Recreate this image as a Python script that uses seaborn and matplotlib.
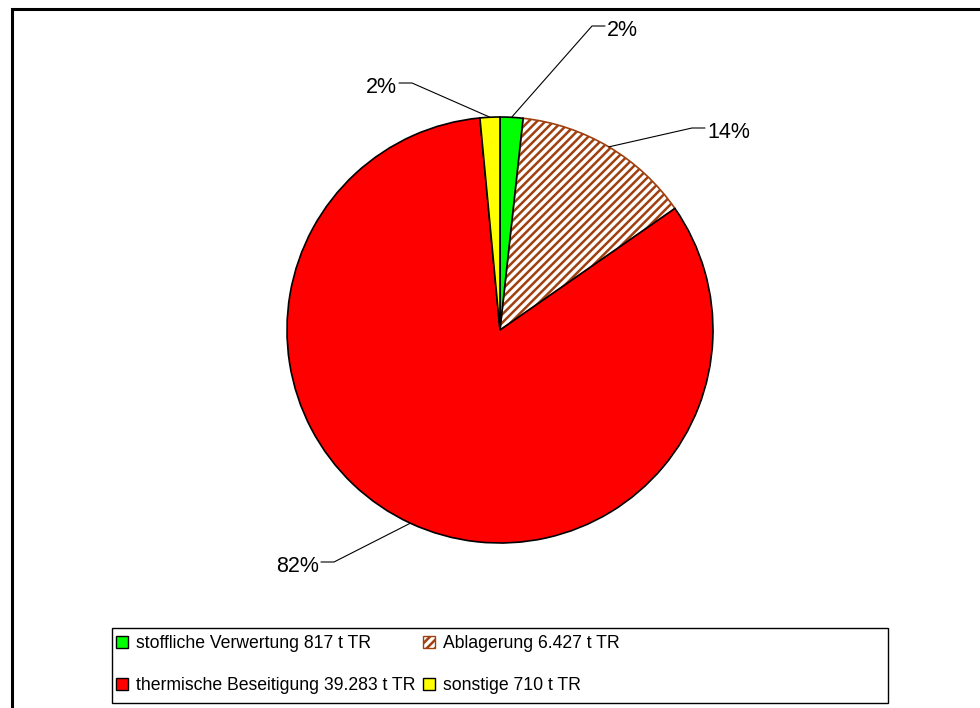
import matplotlib
matplotlib.use("Agg")
import matplotlib.pyplot as plt
import seaborn as sns
import numpy as np
from matplotlib.patches import Patch, Rectangle

# Disposal routes for sewage sludge (tonnes dry matter)
categories = ["stoffliche Verwertung", "Ablagerung", "thermische Beseitigung", "sonstige"]
tonnes = [817, 6427, 39283, 710]
tonnes_text = ["817", "6.427", "39.283", "710"]
pct_labels = ["2%", "14%", "82%", "2%"]

sns.set_theme(style="white")
plt.rcParams["font.family"] = ["Liberation Sans", "DejaVu Sans"]
plt.rcParams["text.color"] = "black"
plt.rcParams["hatch.linewidth"] = 1.8

slice_colors = sns.color_palette(["#00FF00", "#FFFFFF", "#FF0000", "#FFFF00"])
hatch_color = "#A0400F"

W, H = 980, 708
fig = plt.figure(figsize=(W / 100, H / 100), dpi=100)


def px_box(x0, y0, x1, y1):
    return [x0 / W, 1 - y1 / H, (x1 - x0) / W, (y1 - y0) / H]


# pie occupies a square of 426 px centred at (500, 330)
cx, cy, r = 500, 330, 213
ax = fig.add_axes(px_box(cx - r, cy - r, cx + r, cy + r))
wedges, _ = ax.pie(tonnes, colors=slice_colors, startangle=90, counterclock=False,
                   wedgeprops=dict(edgecolor="black", linewidth=1.2))
wedges[1].set_hatch("////")
wedges[1].set_edgecolor(hatch_color)
wedges[1].set_zorder(0.5)
ax.set_xlim(-1, 1)
ax.set_ylim(-1, 1)
ax.set_aspect("auto")
ax.axis("off")


def to_data(px, py):
    return (px - cx) / r, (cy - py) / r


# leader lines: wedge edge -> elbow -> short horizontal stub -> label
elbows_px = [(592, 26), (692, 128), (334, 562), (412, 83)]
sides = [1, 1, -1, -1]
stub = 13
for w, lab, (ex, ey), s in zip(wedges, pct_labels, elbows_px, sides):
    mid = np.deg2rad((w.theta1 + w.theta2) / 2)
    ax0, ay0 = np.cos(mid), np.sin(mid)
    ex_d, ey_d = to_data(ex, ey)
    sx_d, _ = to_data(ex + s * stub, ey)
    ax.plot([ax0, ex_d, sx_d], [ay0, ey_d, ey_d], color="black", lw=0.8,
            clip_on=False, zorder=3)
    tx, ty = to_data(ex + s * (stub + 2), ey + 10)
    ax.text(tx, ty, lab, ha="left" if s > 0 else "right", va="baseline",
            fontsize=15.5, color="black")

# legend box
fig.add_artist(Rectangle((112 / W, 1 - 703 / H), (888 - 112) / W, (703 - 628) / H,
                         transform=fig.transFigure, fill=False, ec="black", lw=1.0))

handles = []
for i, c in enumerate(slice_colors):
    if i == 1:
        handles.append(Patch(facecolor="white", edgecolor=hatch_color, hatch="////", lw=1.0))
    else:
        handles.append(Patch(facecolor=c, edgecolor="black", lw=1.0))
labels = [f"{c} {t} t TR" for c, t in zip(categories, tonnes_text)]
order = [0, 2, 1, 3]
fig.legend([handles[i] for i in order], [labels[i] for i in order], ncol=2,
           loc="upper left", bbox_to_anchor=(116 / W, 1 - 635 / H), frameon=False,
           fontsize=12.7, labelcolor="black", handlelength=0.68, handleheight=0.68,
           handletextpad=0.45, columnspacing=0.45, labelspacing=1.43, borderpad=0,
           borderaxespad=0)

# outer frame, running off the right and bottom edges
fig.add_artist(Rectangle((11.5 / W, -0.2), 2.0, 1.2 - 8.5 / H,
                         transform=fig.transFigure, fill=False, ec="black", lw=2.2))

fig.savefig("out.png", dpi=100)
